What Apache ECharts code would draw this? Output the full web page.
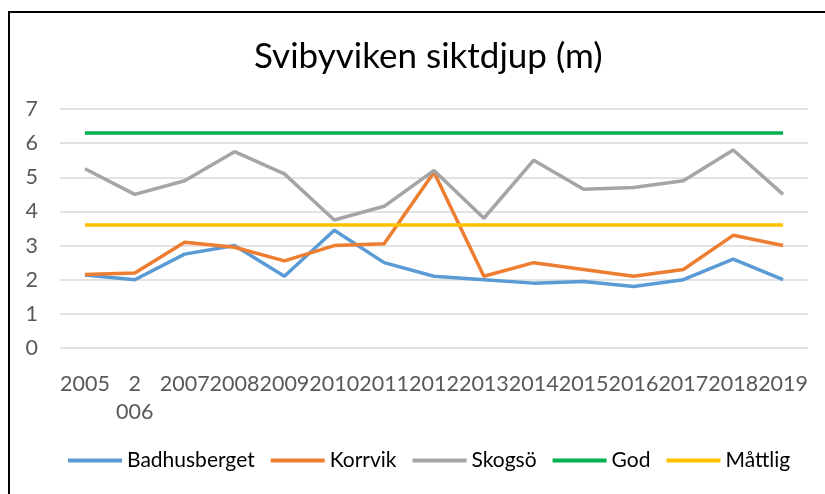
<!DOCTYPE html>
<html>
<head>
<meta charset="utf-8">
<script src="https://cdn.jsdelivr.net/npm/echarts@6/dist/echarts.min.js"></script>
<style>
  html, body { margin: 0; padding: 0; background: #fff; }
  #chart { width: 825px; height: 494px; }
</style>
</head>
<body>
<div id="chart"></div>
<script>
// årtal och siktdjup (m) per lokal
const years = ['2005', '2006', '2007', '2008', '2009', '2010', '2011', '2012',
  '2013', '2014', '2015', '2016', '2017', '2018', '2019'];
const badhusberget = [2.14, 2.0, 2.75, 3.0, 2.1, 3.45, 2.5, 2.1, 2.0, 1.9, 1.95, 1.8, 2.0, 2.6, 2.0];
const korrvik = [2.15, 2.2, 3.1, 2.95, 2.55, 3.0, 3.05, 5.15, 2.1, 2.5, 2.3, 2.1, 2.3, 3.3, 3.0];
const skogso = [5.25, 4.5, 4.9, 5.75, 5.1, 3.75, 4.15, 5.2, 3.8, 5.5, 4.65, 4.7, 4.9, 5.8, 4.5];
const god = [6.3, 6.3, 6.3, 6.3, 6.3, 6.3, 6.3, 6.3, 6.3, 6.3, 6.3, 6.3, 6.3, 6.3, 6.3];
const mattlig = [3.6, 3.6, 3.6, 3.6, 3.6, 3.6, 3.6, 3.6, 3.6, 3.6, 3.6, 3.6, 3.6, 3.6, 3.6];

const font = 'Lato, "Open Sans", sans-serif';

function lineSeries(name, data, color) {
  return {
    name,
    type: 'line',
    data,
    symbol: 'none',
    lineStyle: { color, width: 3.5 },
    itemStyle: { color },
  };
}

const chart = echarts.init(document.getElementById('chart'));
chart.setOption({
  animation: false,
  title: {
    text: 'Svibyviken siktdjup (m)',
    left: 249,
    top: 34,
    textStyle: { fontFamily: font, fontSize: 35, fontWeight: 'normal', color: '#000' },
  },
  graphic: [{
    type: 'rect',
    shape: { x: 9, y: 12, width: 840, height: 500 },
    style: { fill: 'none', stroke: '#000', lineWidth: 2 },
  }],
  legend: {
    bottom: 18,
    left: 63,
    icon: 'rect',
    itemWidth: 54,
    itemHeight: 4,
    itemGap: 16,
    textStyle: { fontFamily: font, fontSize: 21, color: '#000' },
  },
  grid: { left: 60, right: 17, top: 109, bottom: 146 },
  xAxis: {
    type: 'category',
    data: years,
    axisLine: { show: false },
    axisTick: { show: false },
    axisLabel: {
      interval: 0,
      margin: 22,
      fontFamily: font,
      fontSize: 21.5,
      color: '#595959',
      lineHeight: 28,
      formatter: (v) => (v === '2006' ? '2\n006' : v),
    },
  },
  yAxis: {
    type: 'value',
    min: 0,
    max: 7,
    interval: 1,
    axisLabel: { margin: 22, fontFamily: font, fontSize: 21.5, color: '#595959' },
    splitLine: { lineStyle: { color: '#d9d9d9', width: 1.5 } },
  },
  series: [
    lineSeries('Badhusberget', badhusberget, '#5B9BD5'),
    lineSeries('Korrvik', korrvik, '#ED7D31'),
    lineSeries('Skogsö', skogso, '#A5A5A5'),
    lineSeries('God', god, '#00B050'),
    lineSeries('Måttlig', mattlig, '#FFC000'),
  ],
});
</script>
</body>
</html>
